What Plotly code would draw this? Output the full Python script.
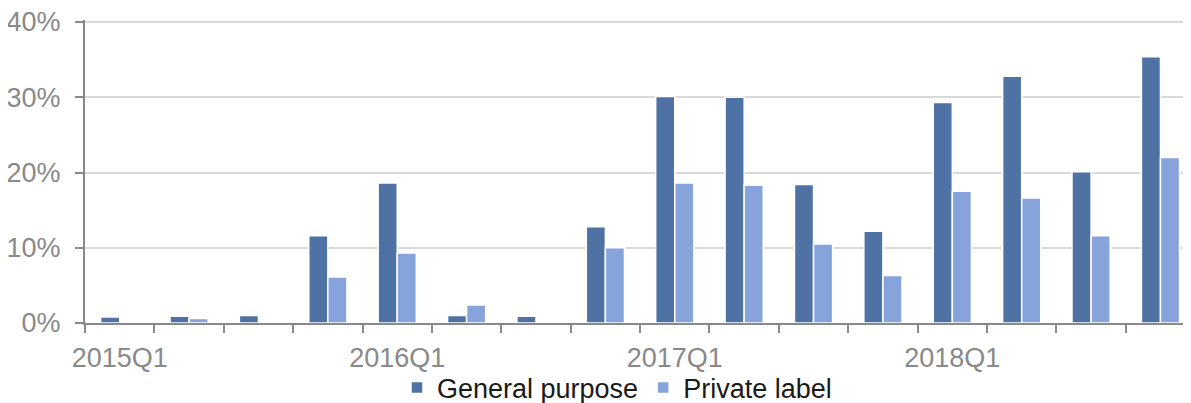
import plotly.graph_objects as go

quarters = ["2015Q1", "2015Q2", "2015Q3", "2015Q4",
            "2016Q1", "2016Q2", "2016Q3", "2016Q4",
            "2017Q1", "2017Q2", "2017Q3", "2017Q4",
            "2018Q1", "2018Q2", "2018Q3", "2018Q4"]
general_purpose = [0.8, 0.9, 1.0, 11.6, 18.6, 1.0, 0.9, 12.8,
                   30.1, 30.0, 18.4, 12.2, 29.3, 32.8, 20.1, 35.4]
private_label = [0.0, 0.6, 0.0, 6.1, 9.3, 2.4, 0.0, 10.0,
                 18.6, 18.3, 10.5, 6.3, 17.5, 16.6, 11.6, 22.0]
tick_labels = ["2015Q1", "2016Q1", "2017Q1", "2018Q1"]
y_ticks = [0.0, 0.1, 0.2, 0.3, 0.4]

x_idx = list(range(len(quarters)))
tick_pos = [quarters.index(t) for t in tick_labels]

DARK = "#4f72a4"
LIGHT = "#86a3dc"
AXIS = "#898989"
FONT = "Liberation Sans, Arial, sans-serif"
FS = 27

fig = go.Figure()
fig.add_trace(go.Bar(x=x_idx, y=[v / 100 for v in general_purpose], name="General purpose",
                     marker=dict(color=DARK, line=dict(color="white", width=1.5))))
fig.add_trace(go.Bar(x=x_idx, y=[v / 100 for v in private_label], name="Private label",
                     marker=dict(color=LIGHT, line=dict(color="white", width=1.5))))

# page body has an 8px default margin, so the figure is sized to fit the window
fig.update_layout(
    width=1183, height=395,
    margin=dict(l=77, r=0, t=12, b=80, autoexpand=False),
    paper_bgcolor="white", plot_bgcolor="white",
    barmode="group", bargap=0.45, bargroupgap=0,
    font=dict(family=FONT, size=FS, color=AXIS),
    showlegend=True,
    legend=dict(orientation="h", x=0.481, xanchor="center", y=-0.214, yanchor="middle",
                font=dict(family=FONT, size=FS, color="#1a1a1a"),
                bgcolor="rgba(0,0,0,0)", itemwidth=30, traceorder="normal"),
)
fig.update_xaxes(
    range=[-0.5, 15.44], automargin=False,
    tickmode="array", tickvals=tick_pos, ticktext=tick_labels,
    ticks="", showgrid=False, zeroline=False,
    showline=True, linecolor=AXIS, linewidth=2,
    tickfont=dict(family=FONT, size=FS, color=AXIS),
    ticklabelstandoff=10, ticklabeloverflow="allow",
    minor=dict(tickmode="array", tickvals=[i - 0.5 for i in range(len(quarters) + 1)],
               ticks="outside", ticklen=8, tickwidth=2, tickcolor=AXIS, showgrid=False),
)
fig.update_yaxes(
    range=[0, 0.4027], tickmode="array", tickvals=y_ticks, tickformat=".0%", automargin=False,
    ticks="outside", ticklen=8, tickwidth=2, tickcolor=AXIS,
    showgrid=True, gridcolor="#d9d9d9", gridwidth=1.5,
    zeroline=False, showline=True, linecolor=AXIS, linewidth=2,
    tickfont=dict(family=FONT, size=FS, color=AXIS),
    ticklabelstandoff=9, ticklabeloverflow="allow",
)

fig.write_html("out.html")
